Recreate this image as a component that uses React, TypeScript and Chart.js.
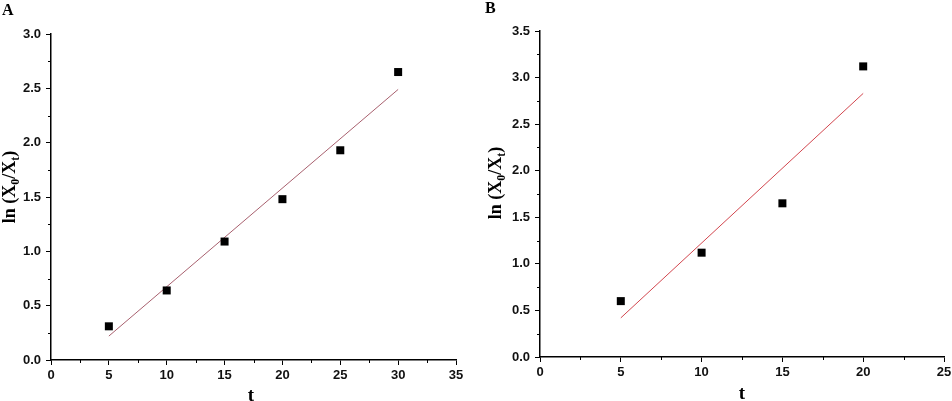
import React, { useEffect, useRef } from "react";
import { Chart, registerables } from "chart.js";

Chart.register(...registerables);

// ---- Data ----
const tA = [5, 10, 15, 20, 25, 30];
const yA = [0.31, 0.64, 1.09, 1.48, 1.93, 2.65];
const fitTA = [5, 30];
const fitYA = [0.22, 2.49];

const tB = [5, 10, 15, 20];
const yB = [0.6, 1.12, 1.65, 3.12];
const fitTB = [5, 20];
const fitYB = [0.42, 2.83];

const xTicksA = [0, 5, 10, 15, 20, 25, 30, 35];
const yTicksA = [0, 0.5, 1.0, 1.5, 2.0, 2.5, 3.0];
const xTicksB = [0, 5, 10, 15, 20, 25];
const yTicksB = [0, 0.5, 1.0, 1.5, 2.0, 2.5, 3.0, 3.5];

const SANS = "'Liberation Sans', Arial, sans-serif";
const SERIF = "'Liberation Serif', 'Times New Roman', serif";

type PanelCfg = {
  letter: string;
  letterX: number;
  letterY: number;
  xTitleX: number;
  xTitleY: number;
  yTitleX: number;
  yTitleY: number;
  yAxisW: number;
  xAxisH: number;
  padTop: number;
  padRight: number;
  lineColor: string;
};

function makePlugin(cfg: PanelCfg) {
  return {
    id: "decor" + cfg.letter,
    afterDraw(chart: any) {
      const ctx = chart.ctx as CanvasRenderingContext2D;
      const xs = chart.scales.x;
      const ys = chart.scales.y;
      ctx.save();
      // minor ticks
      ctx.strokeStyle = "#000";
      ctx.lineWidth = 1;
      ctx.beginPath();
      const xt = xs.ticks.map((t: any) => t.value);
      for (let i = 0; i < xt.length - 1; i++) {
        const v = (xt[i] + xt[i + 1]) / 2;
        const px = Math.round(xs.getPixelForValue(v)) + 0.5;
        ctx.moveTo(px, ys.bottom);
        ctx.lineTo(px, ys.bottom + 3);
      }
      const yt = ys.ticks.map((t: any) => t.value);
      for (let i = 0; i < yt.length - 1; i++) {
        const v = (yt[i] + yt[i + 1]) / 2;
        const py = Math.round(ys.getPixelForValue(v)) + 0.5;
        ctx.moveTo(xs.left, py);
        ctx.lineTo(xs.left - 3, py);
      }
      ctx.stroke();

      ctx.fillStyle = "#000";
      // panel letter
      ctx.font = `bold 16px ${SERIF}`;
      ctx.textAlign = "left";
      ctx.textBaseline = "alphabetic";
      ctx.fillText(cfg.letter, cfg.letterX, cfg.letterY);

      // x title
      ctx.font = `bold 19px ${SERIF}`;
      ctx.textAlign = "center";
      ctx.fillText("t", cfg.xTitleX, cfg.xTitleY);

      // y title with subscripts
      const segs = [
        { t: "ln (X", sub: false },
        { t: "0", sub: true },
        { t: "/X", sub: false },
        { t: "t", sub: true },
        { t: ")", sub: false },
      ];
      const big = `bold 18px ${SERIF}`;
      const small = `bold 12px ${SERIF}`;
      let total = 0;
      const widths: number[] = [];
      for (const s of segs) {
        ctx.font = s.sub ? small : big;
        const w = ctx.measureText(s.t).width;
        widths.push(w);
        total += w;
      }
      ctx.translate(cfg.yTitleX, cfg.yTitleY);
      ctx.rotate(-Math.PI / 2);
      ctx.textAlign = "left";
      let x = -total / 2;
      segs.forEach((s, i) => {
        ctx.font = s.sub ? small : big;
        ctx.fillText(s.t, x, s.sub ? 4 : 0);
        x += widths[i];
      });
      ctx.restore();
    },
  };
}

function makeConfig(
  ts: number[],
  ys: number[],
  fitT: number[],
  fitY: number[],
  xTicks: number[],
  yTicks: number[],
  cfg: PanelCfg
): any {
  const tickFont = { family: SANS, size: 13, weight: "bold" as const };
  return {
    type: "scatter",
    data: {
      datasets: [
        {
          data: ts.map((t, i) => ({ x: t, y: ys[i] })),
          pointStyle: "rect",
          pointRadius: 5.66,
          pointHoverRadius: 5.66,
          backgroundColor: "#000",
          borderColor: "#000",
          pointBorderWidth: 0,
          showLine: false,
          order: 1,
        },
        {
          data: fitT.map((t, i) => ({ x: t, y: fitY[i] })),
          showLine: true,
          borderColor: cfg.lineColor,
          borderWidth: 1,
          pointRadius: 0,
          order: 2,
        },
      ],
    },
    options: {
      responsive: false,
      animation: false,
      events: [],
      layout: { padding: { top: cfg.padTop, right: cfg.padRight, left: 0, bottom: 0 } },
      plugins: { legend: { display: false }, tooltip: { enabled: false } },
      scales: {
        x: {
          type: "linear",
          min: xTicks[0],
          max: xTicks[xTicks.length - 1],
          afterBuildTicks: (s: any) => {
            s.ticks = xTicks.map((v) => ({ value: v }));
          },
          afterFit: (s: any) => {
            s.height = cfg.xAxisH;
            s.paddingLeft = 0;
            s.paddingRight = 0;
          },
          ticks: {
            font: tickFont,
            color: "#111",
            padding: 3,
            maxRotation: 0,
            autoSkip: false,
            callback: (v: any) => String(v),
          },
          grid: {
            drawOnChartArea: false,
            tickLength: 5,
            color: "#000",
            tickWidth: 1,
          },
          border: { color: "#000", width: 1.5 },
        },
        y: {
          type: "linear",
          min: yTicks[0],
          max: yTicks[yTicks.length - 1],
          afterBuildTicks: (s: any) => {
            s.ticks = yTicks.map((v) => ({ value: v }));
          },
          afterFit: (s: any) => {
            s.width = cfg.yAxisW;
            s.paddingTop = 0;
            s.paddingBottom = 0;
          },
          ticks: {
            font: tickFont,
            color: "#111",
            padding: 5,
            autoSkip: false,
            callback: (v: any) => Number(v).toFixed(1),
          },
          grid: {
            drawOnChartArea: false,
            tickLength: 5,
            color: "#000",
            tickWidth: 1,
          },
          border: { color: "#000", width: 1.5 },
        },
      },
    },
    plugins: [makePlugin(cfg)],
  };
}

const cfgA: PanelCfg = {
  letter: "A",
  letterX: 2,
  letterY: 15,
  xTitleX: 251,
  xTitleY: 401,
  yTitleX: 15,
  yTitleY: 187,
  yAxisW: 51,
  xAxisH: 41,
  padTop: 34,
  padRight: 24,
  lineColor: "#a8606e",
};

const cfgB: PanelCfg = {
  letter: "B",
  letterX: 5,
  letterY: 13,
  xTitleX: 262,
  xTitleY: 399,
  yTitleX: 21,
  yTitleY: 183,
  yAxisW: 60,
  xAxisH: 44,
  padTop: 31,
  padRight: 16,
  lineColor: "#d2464e",
};

function Panel(props: { config: () => any; left: number }) {
  const ref = useRef<HTMLCanvasElement | null>(null);
  useEffect(() => {
    if (!ref.current) return;
    const chart = new Chart(ref.current, props.config());
    return () => chart.destroy();
  }, []);
  return (
    <canvas
      ref={ref}
      width={480}
      height={401}
      style={{ position: "absolute", left: props.left, top: 0, width: 480, height: 401 }}
    />
  );
}

export default function App() {
  return (
    <div
      style={{
        position: "absolute",
        left: 0,
        top: 0,
        width: 952,
        height: 401,
        overflow: "hidden",
        background: "#fff",
      }}
    >
      <Panel left={0} config={() => makeConfig(tA, yA, fitTA, fitYA, xTicksA, yTicksA, cfgA)} />
      <Panel left={480} config={() => makeConfig(tB, yB, fitTB, fitYB, xTicksB, yTicksB, cfgB)} />
    </div>
  );
}
